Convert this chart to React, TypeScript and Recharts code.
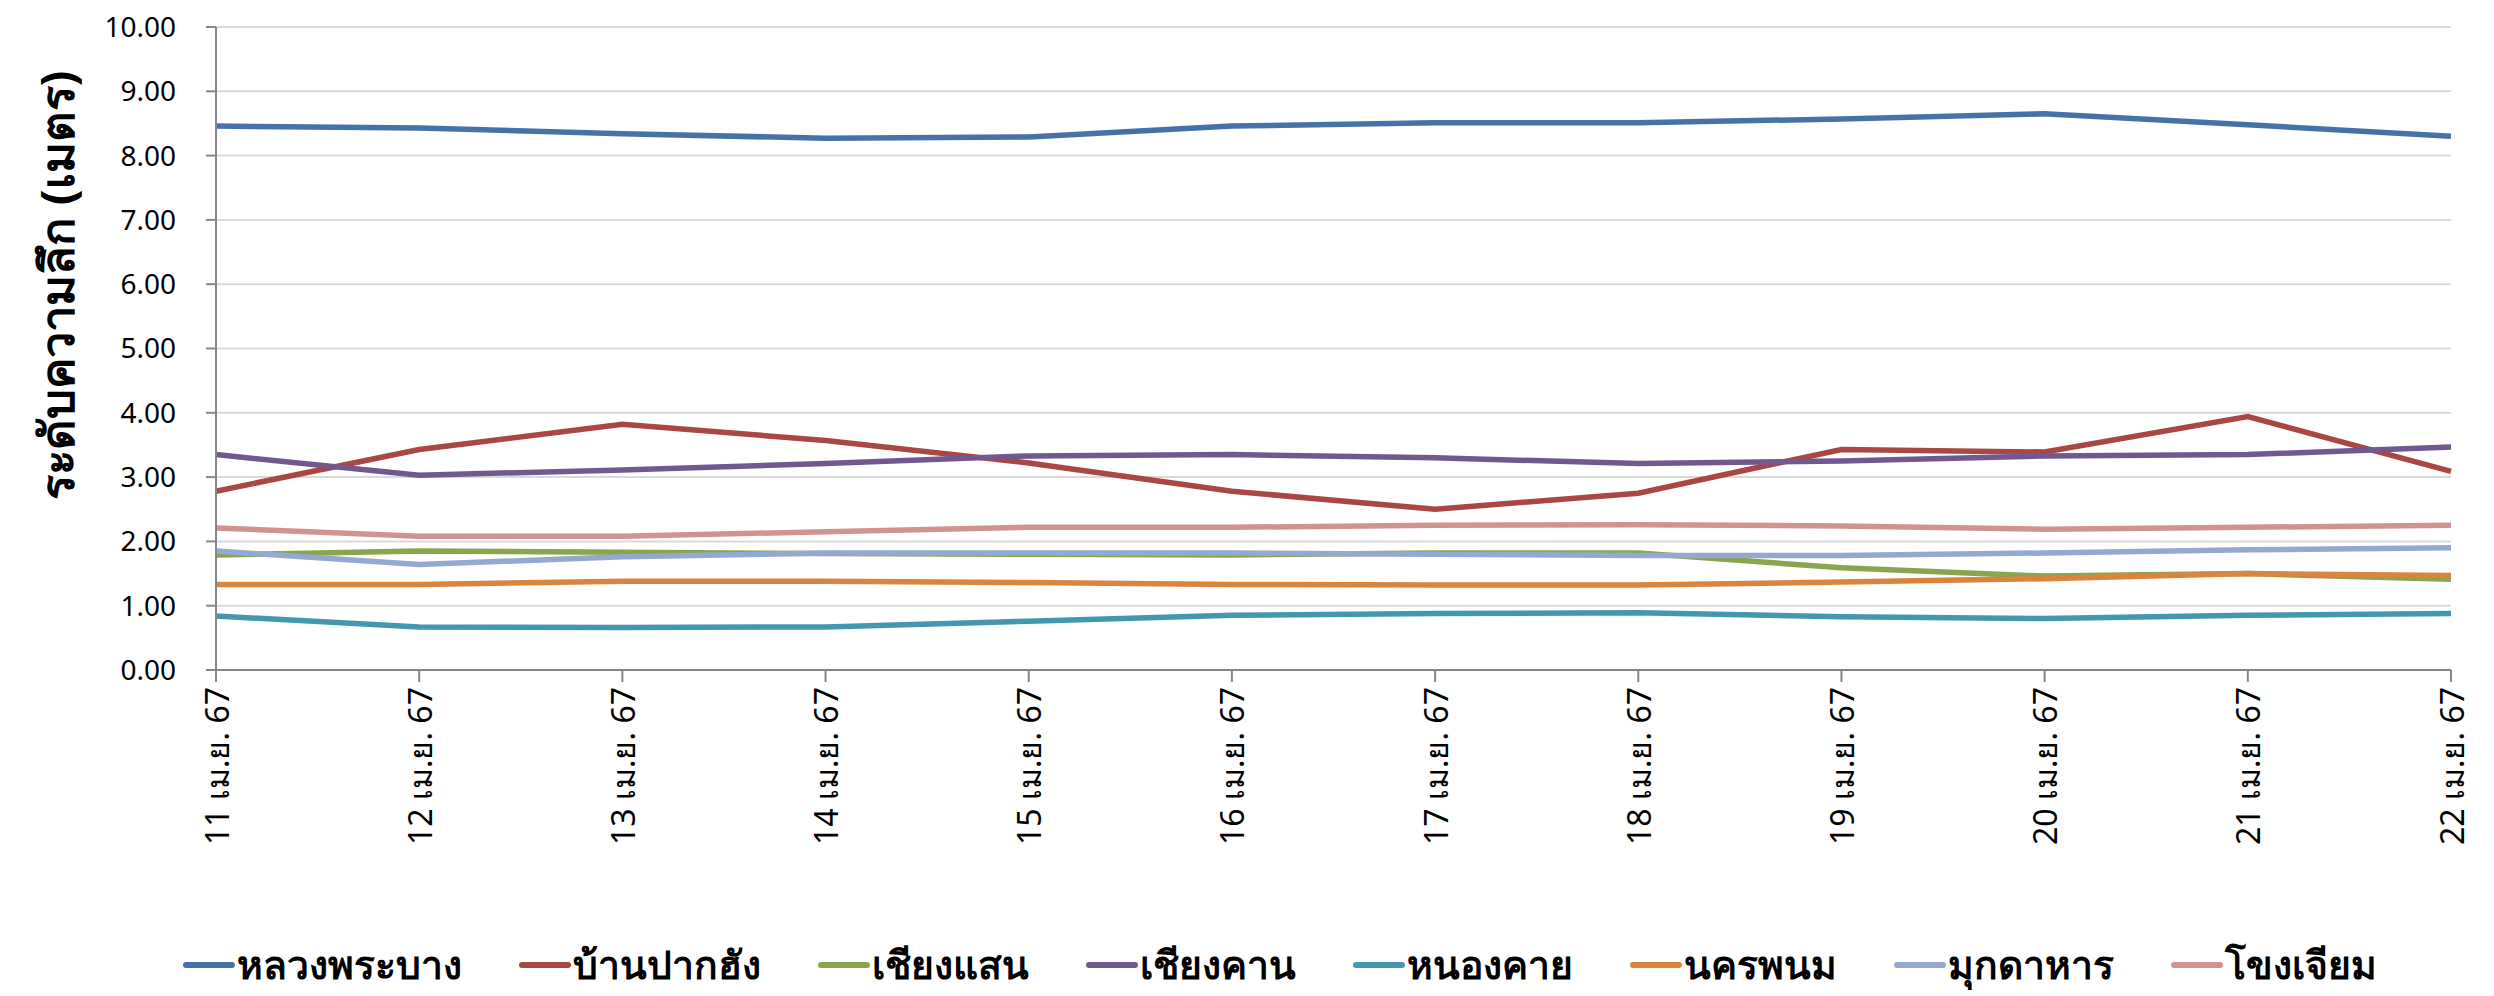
import React from "react";
import { LineChart, Line, XAxis, YAxis, CartesianGrid } from "recharts";

const dates = ["11 เม.ย. 67", "12 เม.ย. 67", "13 เม.ย. 67", "14 เม.ย. 67", "15 เม.ย. 67", "16 เม.ย. 67", "17 เม.ย. 67", "18 เม.ย. 67", "19 เม.ย. 67", "20 เม.ย. 67", "21 เม.ย. 67", "22 เม.ย. 67"];

const luangPrabang = [8.46, 8.43, 8.34, 8.27, 8.29, 8.46, 8.51, 8.51, 8.57, 8.65, 8.48, 8.30];
const banPakHang = [2.78, 3.43, 3.82, 3.57, 3.22, 2.78, 2.50, 2.75, 3.43, 3.39, 3.94, 3.09];
const chiangSaen = [1.79, 1.85, 1.83, 1.81, 1.80, 1.79, 1.82, 1.82, 1.59, 1.46, 1.50, 1.41];
const chiangKhan = [3.35, 3.03, 3.11, 3.21, 3.33, 3.35, 3.30, 3.21, 3.25, 3.33, 3.35, 3.47];
const nongKhai = [0.84, 0.67, 0.66, 0.67, 0.76, 0.85, 0.88, 0.89, 0.83, 0.80, 0.85, 0.88];
const nakhonPhanom = [1.33, 1.33, 1.38, 1.38, 1.36, 1.33, 1.32, 1.32, 1.37, 1.42, 1.50, 1.47];
const mukdahan = [1.85, 1.64, 1.76, 1.82, 1.82, 1.82, 1.80, 1.78, 1.78, 1.82, 1.87, 1.90];
const khongChiam = [2.21, 2.08, 2.08, 2.15, 2.22, 2.22, 2.25, 2.26, 2.24, 2.19, 2.22, 2.25];

const yTicks = [0, 1, 2, 3, 4, 5, 6, 7, 8, 9, 10];

const series = [
  { key: "s1", name: "หลวงพระบาง", values: luangPrabang, color: "#4572A7" },
  { key: "s2", name: "บ้านปากฮัง", values: banPakHang, color: "#AA4643" },
  { key: "s3", name: "เชียงแสน", values: chiangSaen, color: "#89A54E" },
  { key: "s4", name: "เชียงคาน", values: chiangKhan, color: "#71588F" },
  { key: "s5", name: "หนองคาย", values: nongKhai, color: "#4198AF" },
  { key: "s6", name: "นครพนม", values: nakhonPhanom, color: "#DB843D" },
  { key: "s7", name: "มุกดาหาร", values: mukdahan, color: "#93A9CF" },
  { key: "s8", name: "โขงเจียม", values: khongChiam, color: "#D19392" },
];

const data = dates.map((d, i) => {
  const row: Record<string, any> = { date: d };
  series.forEach((s) => (row[s.key] = s.values[i]));
  return row;
});

const FONT = "'Noto Sans', 'DejaVu Sans', sans-serif";

const XTick = (props: any) => {
  const { x, y, payload } = props;
  return (
    <text
      x={x}
      y={y}
      transform={`rotate(-90, ${x}, ${y})`}
      textAnchor="end"
      dominantBaseline="central"
      fontSize={32}
      fontFamily={FONT}
      fill="#000"
    >
      {payload.value}
    </text>
  );
};

export default function App() {
  return (
    <div style={{ width: 2478, fontFamily: FONT }}>
      <div style={{ position: "relative", width: 2478, height: 900 }}>
        <LineChart width={2478} height={900} data={data} margin={{ top: 19, right: 35, left: 0, bottom: 0 }}>
          <CartesianGrid vertical={false} stroke="#D9D9D9" strokeWidth={2} />
          <XAxis
            dataKey="date"
            interval={0}
            height={238}
            tick={<XTick />}
            tickSize={12}
            tickMargin={5}
            axisLine={{ stroke: "#868686", strokeWidth: 2 }}
            tickLine={{ stroke: "#868686", strokeWidth: 2 }}
          />
          <YAxis
            width={208}
            domain={[0, 10]}
            ticks={yTicks}
            interval={0}
            tickFormatter={(v: number) => v.toFixed(2)}
            tick={{ fontSize: 28, fill: "#000", fontFamily: FONT }}
            tickSize={10}
            tickMargin={30}
            axisLine={{ stroke: "#868686", strokeWidth: 2 }}
            tickLine={{ stroke: "#868686", strokeWidth: 2 }}
            label={{
              content: () => (
                <text
                  x={48}
                  y={277}
                  transform="rotate(-90, 48, 277)"
                  textAnchor="middle"
                  dominantBaseline="central"
                  fontSize={47}
                  fontWeight="bold"
                  fontFamily={FONT}
                  fill="#000"
                >
                  ระดับความลึก (เมตร)
                </text>
              ),
            }}
          />
          {series.map((s) => (
            <Line
              key={s.key}
              type="linear"
              dataKey={s.key}
              name={s.name}
              stroke={s.color}
              strokeWidth={5.5}
              dot={false}
              activeDot={false}
              isAnimationActive={false}
            />
          ))}
        </LineChart>
      </div>
      <div
        style={{
          display: "flex",
          alignItems: "center",
          height: 60,
          marginTop: 27,
          paddingLeft: 175,
          gap: 57,
        }}
      >
        {series.map((s) => (
          <div key={s.key} style={{ display: "flex", alignItems: "center" }}>
            <div style={{ width: 52, height: 6, borderRadius: 3, background: s.color, marginRight: 2 }} />
            <span style={{ fontSize: 39, fontWeight: "bold", color: "#000", whiteSpace: "nowrap" }}>{s.name}</span>
          </div>
        ))}
      </div>
    </div>
  );
}
